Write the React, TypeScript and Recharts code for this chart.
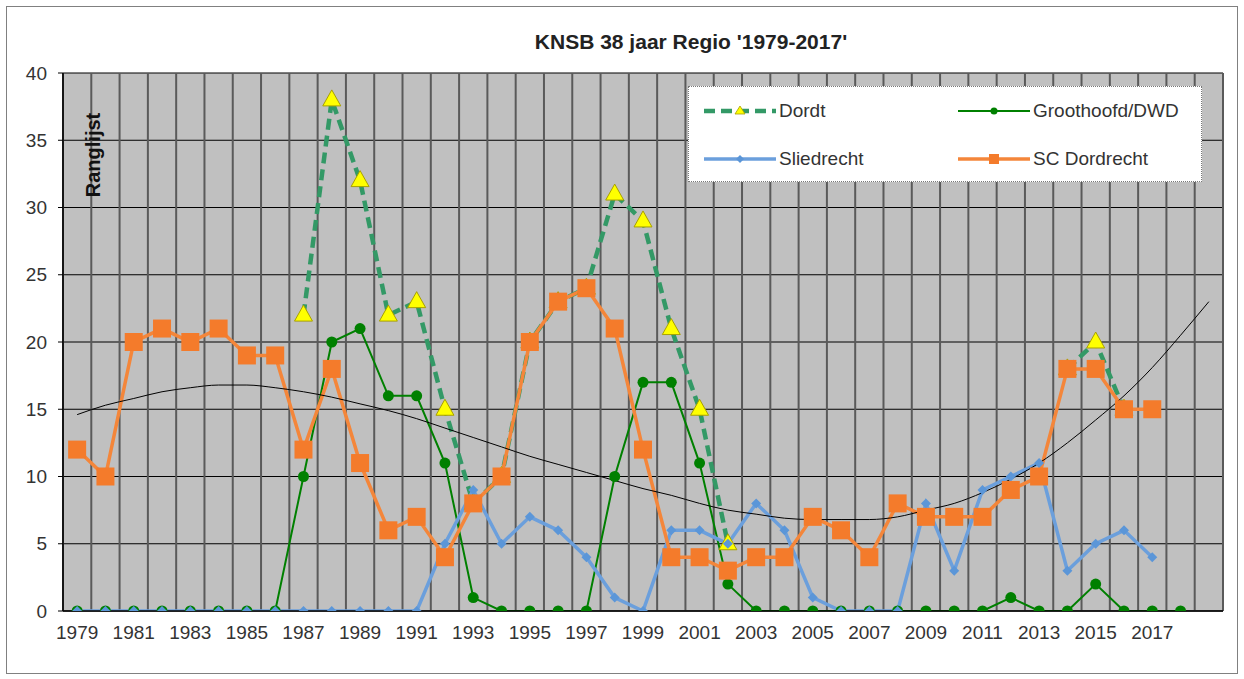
import React from 'react';
import { LineChart, Line, XAxis, YAxis, CartesianGrid } from 'recharts';

// KNSB regio ranglijst 1979-2017 (2019 is only the trendline forecast slot)
const years = [
  1979, 1980, 1981, 1982, 1983, 1984, 1985, 1986, 1987, 1988,
  1989, 1990, 1991, 1992, 1993, 1994, 1995, 1996, 1997, 1998,
  1999, 2000, 2001, 2002, 2003, 2004, 2005, 2006, 2007, 2008,
  2009, 2010, 2011, 2012, 2013, 2014, 2015, 2016, 2017, 2018, 2019,
];

const dordt = [
  null, null, null, null, null, null, null, null, 22, 38,
  32, 22, 23, 15, 8, 10, 20, 23, 24, 31,
  29, 21, 15, 5, null, null, null, null, null, null,
  null, null, null, null, null, 18, 20, 15, null, null, null,
];

const groothoofd = [
  0, 0, 0, 0, 0, 0, 0, 0, 10, 20,
  21, 16, 16, 11, 1, 0, 0, 0, 0, 10,
  17, 17, 11, 2, 0, 0, 0, 0, 0, 0,
  0, 0, 0, 1, 0, 0, 2, 0, 0, 0, null,
];

const sliedrecht = [
  0, 0, 0, 0, 0, 0, 0, 0, 0, 0,
  0, 0, 0, 5, 9, 5, 7, 6, 4, 1,
  0, 6, 6, 5, 8, 6, 1, 0, 0, 0,
  8, 3, 9, 10, 11, 3, 5, 6, 4, null, null,
];

const scDordrecht = [
  12, 10, 20, 21, 20, 21, 19, 19, 12, 18,
  11, 6, 7, 4, 8, 10, 20, 23, 24, 21,
  12, 4, 4, 3, 4, 4, 7, 6, 4, 8,
  7, 7, 7, 9, 10, 18, 18, 15, 15, null, null,
];

// polynomial trendline
const trend = [
  14.6, 15.3, 15.8, 16.3, 16.6, 16.8, 16.8, 16.6, 16.3, 15.9,
  15.4, 14.9, 14.3, 13.6, 12.9, 12.2, 11.5, 10.9, 10.3, 9.7,
  9.1, 8.6, 8.0, 7.5, 7.2, 6.9, 6.8, 6.8, 6.8, 7.0,
  7.5, 8.0, 8.8, 9.8, 11.0, 12.5, 14.2, 16.0, 18.1, 20.5, 23.0,
];

const xTicks = [1979, 1981, 1983, 1985, 1987, 1989, 1991, 1993, 1995, 1997, 1999, 2001, 2003, 2005, 2007, 2009, 2011, 2013, 2015, 2017];
const yTicks = [0, 5, 10, 15, 20, 25, 30, 35, 40];

const W = 1244;
const H = 679;
const PLOT_LEFT = 63;
const PLOT_RIGHT = 1223;
const PLOT_TOP = 73;
const PLOT_BOTTOM = 611;
const FONT = '"Liberation Sans", Arial, sans-serif';

const C_DORDT = '#339966';
const C_GROOT = '#008000';
const C_SLIED = '#6b9fdc';
const C_SC = '#f4863a';

// vertical grid sits on the category boundaries (Excel style)
const nCats = years.length;
const gridX = Array.from({ length: nCats + 1 }, (_, i) => PLOT_LEFT + ((PLOT_RIGHT - PLOT_LEFT) * i) / nCats);

const Triangle = (p: any) => {
  const { cx, cy, index } = p;
  if (cx == null || cy == null || p.value == null) return <g key={`t${index}`} />;
  return (
    <polygon
      key={`t${index}`}
      points={`${cx},${cy - 10} ${cx - 9},${cy + 6} ${cx + 9},${cy + 6}`}
      fill="#ffff00"
      stroke="#a8a000"
      strokeWidth={1}
    />
  );
};

const Square = (p: any) => {
  const { cx, cy, index } = p;
  if (cx == null || cy == null || p.value == null) return <g key={`s${index}`} />;
  return <rect key={`s${index}`} x={cx - 9} y={cy - 9} width={18} height={18} fill="#f47b2b" />;
};

const Diamond = (p: any) => {
  const { cx, cy, index } = p;
  if (cx == null || cy == null || p.value == null) return <g key={`d${index}`} />;
  return (
    <polygon
      key={`d${index}`}
      points={`${cx},${cy - 5} ${cx + 5},${cy} ${cx},${cy + 5} ${cx - 5},${cy}`}
      fill="#5b96d8"
    />
  );
};

const Circle = (p: any) => {
  const { cx, cy, index } = p;
  if (cx == null || cy == null || p.value == null) return <g key={`c${index}`} />;
  return <circle key={`c${index}`} cx={cx} cy={cy} r={5.5} fill={C_GROOT} />;
};

function LegendSample({ kind }: { kind: string }) {
  return (
    <svg width={72} height={16} style={{ display: 'block' }}>
      {kind === 'dordt' && (
        <>
          <line x1={0} y1={8} x2={72} y2={8} stroke={C_DORDT} strokeWidth={4.5} strokeDasharray="11 6" />
          <polygon points="36,3 31,11 41,11" fill="#ffff00" stroke="#a8a000" strokeWidth={0.8} />
        </>
      )}
      {kind === 'groot' && (
        <>
          <line x1={0} y1={8} x2={72} y2={8} stroke={C_GROOT} strokeWidth={2} />
          <circle cx={36} cy={8} r={3.5} fill={C_GROOT} />
        </>
      )}
      {kind === 'slied' && (
        <>
          <line x1={0} y1={8} x2={72} y2={8} stroke={C_SLIED} strokeWidth={3.5} />
          <polygon points="36,4 40,8 36,12 32,8" fill="#5b96d8" />
        </>
      )}
      {kind === 'sc' && (
        <>
          <line x1={0} y1={8} x2={72} y2={8} stroke={C_SC} strokeWidth={3.5} />
          <rect x={31} y={3} width={10} height={10} fill="#f47b2b" />
        </>
      )}
    </svg>
  );
}

const legendItems = [
  { kind: 'dordt', name: 'Dordt', left: 15, top: 13 },
  { kind: 'groot', name: 'Groothoofd/DWD', left: 269, top: 13 },
  { kind: 'slied', name: 'Sliedrecht', left: 15, top: 61 },
  { kind: 'sc', name: 'SC Dordrecht', left: 269, top: 61 },
];

export default function App() {
  const data = years.map((y, i) => ({
    year: y,
    dordt: dordt[i],
    groothoofd: groothoofd[i],
    sliedrecht: sliedrecht[i],
    sc: scDordrecht[i],
    trend: trend[i],
  }));

  return (
    <div style={{ position: 'absolute', left: 0, top: 0, width: W, height: H, background: '#fff', fontFamily: FONT }}>
      <div style={{ position: 'absolute', left: 6, top: 6, width: 1230, height: 666, border: '1px solid #808080' }} />
      <div
        style={{
          position: 'absolute',
          left: 691,
          top: 30,
          transform: 'translateX(-50%)',
          whiteSpace: 'nowrap',
          fontSize: 21,
          fontWeight: 'bold',
          color: '#222',
        }}
      >
        KNSB 38 jaar Regio '1979-2017'
      </div>

      <div style={{ position: 'absolute', left: 0, top: 0 }}>
        <LineChart
          width={W}
          height={H}
          data={data}
          margin={{ top: PLOT_TOP, right: W - PLOT_RIGHT, bottom: 0, left: 0 }}
        >
          <CartesianGrid fill="#c0c0c0" stroke="#000" strokeWidth={1.2} vertical={false} />
          <CartesianGrid horizontal={false} stroke="#5a5a5a" strokeWidth={2} verticalPoints={gridX} />
          <XAxis
            type="number"
            dataKey="year"
            domain={[1978.5, 2019.5]}
            ticks={xTicks}
            interval={0}
            height={H - PLOT_BOTTOM}
            tickLine={false}
            tickMargin={9}
            axisLine={{ stroke: '#000', strokeWidth: 1.5 }}
            tick={{ fontSize: 19, fill: '#333', fontFamily: FONT }}
            allowDataOverflow
          />
          <YAxis
            domain={[0, 40]}
            ticks={yTicks}
            width={PLOT_LEFT}
            tickSize={5}
            tickMargin={11}
            axisLine={{ stroke: '#000', strokeWidth: 1.5 }}
            tickLine={{ stroke: '#000' }}
            tick={{ fontSize: 19, fill: '#333', fontFamily: FONT }}
            allowDataOverflow
          />
          <Line
            dataKey="dordt"
            stroke={C_DORDT}
            strokeWidth={4.5}
            strokeDasharray="11 6"
            dot={Triangle}
            activeDot={false}
            isAnimationActive={false}
            type="linear"
          />
          <Line
            dataKey="groothoofd"
            stroke={C_GROOT}
            strokeWidth={2}
            dot={Circle}
            activeDot={false}
            isAnimationActive={false}
            type="linear"
          />
          <Line
            dataKey="sliedrecht"
            stroke={C_SLIED}
            strokeWidth={3.5}
            dot={Diamond}
            activeDot={false}
            isAnimationActive={false}
            type="linear"
          />
          <Line
            dataKey="sc"
            stroke={C_SC}
            strokeWidth={3.5}
            dot={Square}
            activeDot={false}
            isAnimationActive={false}
            type="linear"
          />
          <Line
            dataKey="trend"
            stroke="#000"
            strokeWidth={1}
            dot={false}
            activeDot={false}
            isAnimationActive={false}
            type="monotone"
          />
        </LineChart>
      </div>

      <div
        style={{
          position: 'absolute',
          left: 93,
          top: 155,
          transform: 'translate(-50%, -50%) rotate(-90deg)',
          fontSize: 20,
          fontWeight: 'bold',
          color: '#111',
          whiteSpace: 'nowrap',
        }}
      >
        Ranglijst
      </div>

      <div
        style={{
          position: 'absolute',
          left: 688,
          top: 86,
          width: 514,
          height: 96,
          background: '#fff',
          border: '1px dotted #777',
          boxSizing: 'border-box',
        }}
      >
        {legendItems.map(it => (
          <div
            key={it.name}
            style={{ position: 'absolute', left: it.left, top: it.top, display: 'flex', alignItems: 'center', gap: 3 }}
          >
            <LegendSample kind={it.kind} />
            <span style={{ fontSize: 19, color: '#333' }}>{it.name}</span>
          </div>
        ))}
      </div>
    </div>
  );
}
